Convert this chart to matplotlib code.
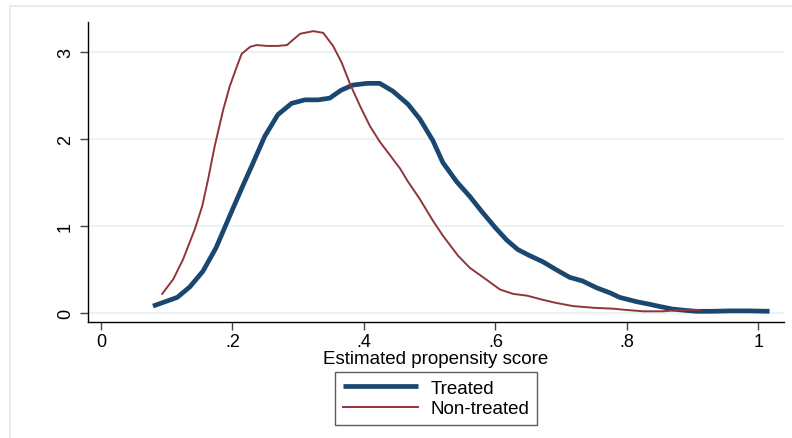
import matplotlib
matplotlib.use("Agg")
import matplotlib.pyplot as plt
from matplotlib.patches import Rectangle

plt.rcParams['font.family'] = ['Liberation Sans', 'DejaVu Sans']

treated_x = [0.079, 0.116, 0.135, 0.155, 0.175, 0.196, 0.215, 0.231, 0.249, 0.269,
             0.290, 0.310, 0.330, 0.348, 0.365, 0.383, 0.405, 0.424, 0.444, 0.467,
             0.485, 0.505, 0.520, 0.541, 0.561, 0.580, 0.600, 0.617, 0.634, 0.652,
             0.672, 0.692, 0.713, 0.732, 0.754, 0.775, 0.789, 0.815, 0.835, 0.850,
             0.870, 0.890, 0.906, 0.930, 0.957, 0.985, 1.017]
treated_y = [0.08, 0.18, 0.30, 0.48, 0.75, 1.12, 1.45, 1.72, 2.03, 2.28,
             2.41, 2.45, 2.45, 2.47, 2.56, 2.62, 2.64, 2.64, 2.55, 2.40,
             2.23, 1.98, 1.73, 1.51, 1.34, 1.16, 0.98, 0.84, 0.73, 0.66,
             0.59, 0.50, 0.41, 0.37, 0.29, 0.23, 0.18, 0.13, 0.10, 0.075,
             0.045, 0.03, 0.02, 0.02, 0.025, 0.025, 0.02]

control_x = [0.093, 0.110, 0.125, 0.143, 0.154, 0.163, 0.173, 0.186, 0.196, 0.207,
             0.214, 0.227, 0.237, 0.252, 0.269, 0.283, 0.292, 0.303, 0.323, 0.338,
             0.353, 0.366, 0.379, 0.394, 0.409, 0.424, 0.440, 0.455, 0.467, 0.485,
             0.505, 0.520, 0.543, 0.561, 0.587, 0.607, 0.627, 0.648, 0.668, 0.690,
             0.718, 0.750, 0.779, 0.800, 0.825, 0.855, 0.880, 0.911]
control_y = [0.22, 0.39, 0.62, 0.97, 1.23, 1.54, 1.92, 2.34, 2.61, 2.84,
             2.98, 3.06, 3.08, 3.07, 3.07, 3.08, 3.14, 3.21, 3.24, 3.22,
             3.07, 2.88, 2.63, 2.38, 2.15, 1.97, 1.81, 1.66, 1.51, 1.31,
             1.06, 0.89, 0.66, 0.52, 0.38, 0.27, 0.22, 0.20, 0.16, 0.12,
             0.08, 0.06, 0.05, 0.035, 0.02, 0.02, 0.035, 0.035]

x_ticks = [0, 0.2, 0.4, 0.6, 0.8, 1.0]
x_tick_labels = ['0', '.2', '.4', '.6', '.8', '1']
y_ticks = [0, 1, 2, 3]
y_tick_labels = ['0', '1', '2', '3']
series_labels = ['Treated', 'Non-treated']

W, H = 792, 439
fig = plt.figure(figsize=(W / 100, H / 100), dpi=100)
fig.patch.set_facecolor('white')

# outer light frame
fig.patches.append(Rectangle((10 / W, -0.1), 1.2, 1 - 7 / H + 0.1,
                             transform=fig.transFigure, fill=False,
                             edgecolor='#e6eef0', linewidth=1.5, zorder=0))

ax = fig.add_axes([88 / W, 1 - 323 / H, (784 - 88) / W, (323 - 23) / H])
ax.set_facecolor('white')

l1, = ax.plot(treated_x, treated_y, color='#1a476f', linewidth=3.4,
              solid_capstyle='butt', solid_joinstyle='round', zorder=3)
l2, = ax.plot(control_x, control_y, color='#90353b', linewidth=1.4,
              solid_joinstyle='round', zorder=3)

ax.set_xlim(-0.0198, 1.039)
ax.set_ylim(-0.103, 3.345)

ax.set_xticks(x_ticks)
ax.set_xticklabels(x_tick_labels)
ax.set_yticks(y_ticks)
ax.set_yticklabels(y_tick_labels, rotation=90, va='center')

ax.grid(axis='y', color='#eaf2f3', linewidth=1.5, zorder=0)
ax.grid(axis='x', visible=False)
ax.set_axisbelow(True)

for s in ['top', 'right']:
    ax.spines[s].set_visible(False)
for s in ['left', 'bottom']:
    ax.spines[s].set_color('black')
    ax.spines[s].set_linewidth(1.0)

ax.tick_params(axis='both', direction='out', length=6, width=1.0,
               color='#444444', labelsize=13, labelcolor='black')
ax.tick_params(axis='x', pad=2)
ax.tick_params(axis='y', pad=4)

ax.set_xlabel('Estimated propensity score', fontsize=13.5, labelpad=0)

leg = fig.legend([l1, l2], series_labels, loc='upper center',
                 bbox_to_anchor=(436 / W, 1 - 373 / H), ncol=1,
                 fontsize=13.5, frameon=True, fancybox=False,
                 handlelength=4.0, handletextpad=0.7, borderpad=0.4,
                 labelspacing=0.2, borderaxespad=0)
leg.get_frame().set_edgecolor('#333333')
leg.get_frame().set_linewidth(1.0)

fig.savefig('out.png', dpi=100, facecolor='white')
